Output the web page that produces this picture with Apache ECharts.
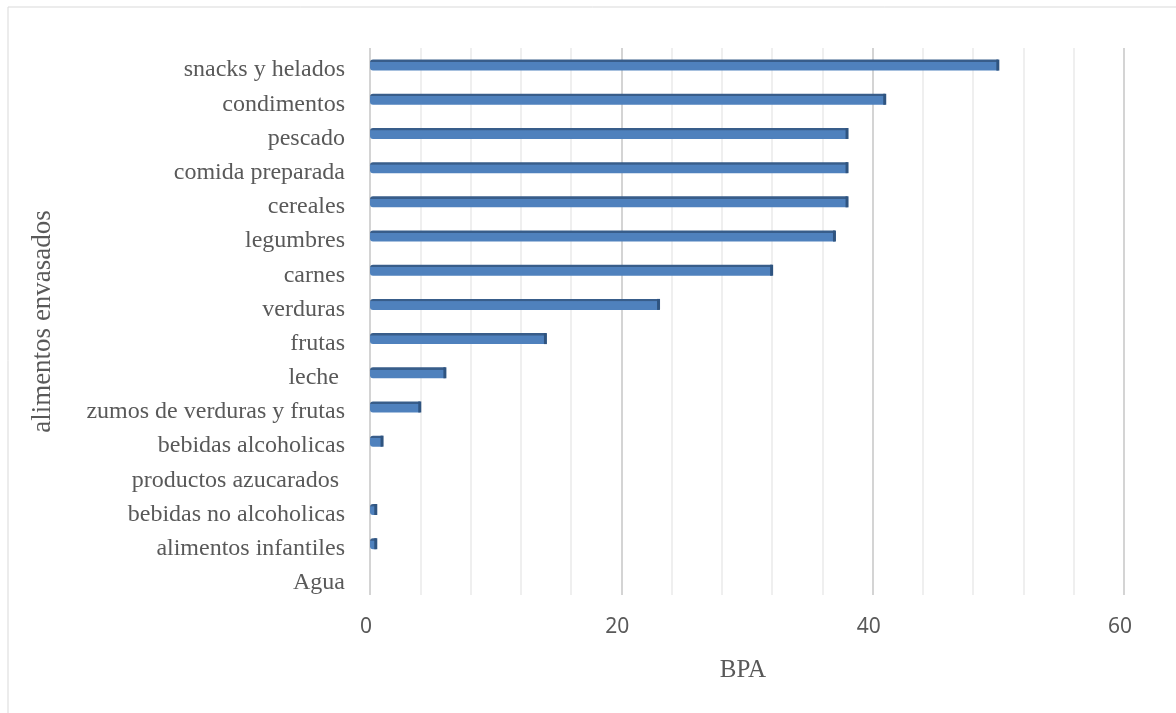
<!DOCTYPE html>
<html>
<head>
<meta charset="utf-8">
<style>
  html, body { margin: 0; padding: 0; background: #fff; }
  #chart { width: 1176px; height: 713px; }
</style>
<script src="https://cdn.jsdelivr.net/npm/echarts@6/dist/echarts.min.js"></script>
</head>
<body>
<div id="chart"></div>
<script>
var categories = ['snacks y helados', 'condimentos', 'pescado', 'comida preparada', 'cereales',
    'legumbres', 'carnes', 'verduras', 'frutas', 'leche ', 'zumos de verduras y frutas',
    'bebidas alcoholicas', 'productos azucarados ', 'bebidas no alcoholicas', 'alimentos infantiles', 'Agua'];
var bpaValues = [50, 41, 38, 38, 38, 37, 32, 23, 14, 6, 4, 1, 0, 0.5, 0.5, 0];
var xTicks = [0, 20, 40, 60];

var myChart = echarts.init(document.getElementById('chart'));
var serif = '"Liberation Serif", "Times New Roman", serif';

// caps at the end of each bar (skip zero values)
var capData = bpaValues.map(function (v) { return v > 0 ? v : '-'; });

var option = {
    animation: false,
    backgroundColor: '#fff',
    graphic: [{
        type: 'rect',
        shape: { x: 8, y: 7, width: 1200, height: 740 },
        style: { fill: 'none', stroke: '#d9d9d9', lineWidth: 1 },
        silent: true
    }],
    grid: {
        left: 370,
        right: 52,
        top: 48,
        bottom: 118
    },
    xAxis: {
        type: 'value',
        min: 0,
        max: 60,
        interval: 4,
        name: 'BPA',
        nameLocation: 'middle',
        nameGap: 63,
        nameTextStyle: { fontFamily: serif, fontSize: 25, color: '#595959', padding: [0, 8, 0, 0] },
        axisLine: { show: false },
        axisTick: { show: false },
        axisLabel: {
            margin: 22,
            fontFamily: '"Noto Sans", "Open Sans", sans-serif',
            fontSize: 21,
            color: '#595959',
            padding: [0, 8, 0, 0],
            formatter: function (v) {
                return xTicks.indexOf(v) >= 0 ? String(v) : '';
            }
        },
        splitLine: {
            show: true,
            lineStyle: {
                color: ['#d4d4d4', '#efefef', '#efefef', '#efefef', '#efefef'],
                width: 2
            }
        }
    },
    yAxis: {
        type: 'category',
        inverse: true,
        data: categories,
        name: 'alimentos envasados',
        nameLocation: 'middle',
        nameRotate: 90,
        nameGap: 314,
        nameTextStyle: { fontFamily: serif, fontSize: 27, color: '#595959' },
        axisLine: { show: false },
        axisTick: { show: false },
        axisLabel: {
            margin: 25,
            formatter: function (v) {
                return '{t|' + v + '}';
            },
            rich: {
                t: {
                    fontFamily: serif,
                    fontSize: 24,
                    color: '#595959',
                    padding: [10, 0, 0, 0]
                }
            }
        }
    },
    series: [
        {
            name: 'BPA',
            type: 'bar',
            barWidth: 11,
            barGap: '-100%',
            data: bpaValues,
            itemStyle: {
                borderRadius: [3, 0, 0, 3],
                color: new echarts.graphic.LinearGradient(0, 0, 0, 1, [
                    { offset: 0, color: '#385d8a' },
                    { offset: 0.2, color: '#385d8a' },
                    { offset: 0.24, color: '#4f81bd' },
                    { offset: 1, color: '#4f81bd' }
                ])
            }
        },
        {
            name: 'cap',
            type: 'pictorialBar',
            barWidth: 11,
            barGap: '-100%',
            symbol: 'rect',
            symbolSize: [3, 11],
            symbolPosition: 'end',
            symbolOffset: [1, 0],
            data: capData,
            itemStyle: { color: '#2f5480' },
            z: 3
        }
    ]
};

myChart.setOption(option);
window.onresize = function () {
    myChart.resize();
};
</script>
</body>
</html>
